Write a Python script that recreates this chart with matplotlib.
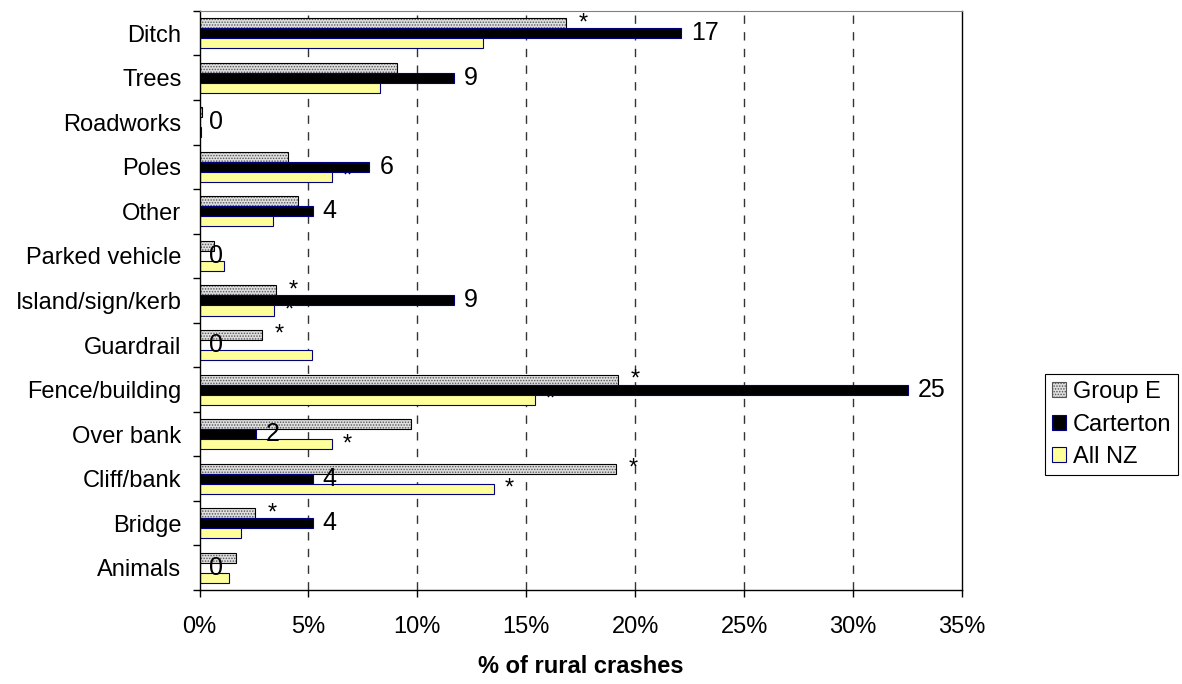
import numpy as np
import matplotlib
matplotlib.use("Agg")
from matplotlib import pyplot as plt
from matplotlib.patches import Patch

plt.rcParams['font.family'] = ['Liberation Sans', 'DejaVu Sans']
plt.rcParams['hatch.linewidth'] = 0.7

# data (% of rural crashes)
categories = ["Ditch", "Trees", "Roadworks", "Poles", "Other", "Parked vehicle",
              "Island/sign/kerb", "Guardrail", "Fence/building", "Over bank",
              "Cliff/bank", "Bridge", "Animals"]
group_e = [16.8, 9.05, 0.12, 4.07, 4.52, 0.67, 3.52, 2.87, 19.2, 9.73, 19.1, 2.54, 1.67]
carterton = [22.1, 11.7, 0.0, 7.8, 5.2, 0.0, 11.7, 0.0, 32.5, 2.6, 5.2, 5.2, 0.0]
all_nz = [13.0, 8.3, 0.08, 6.1, 3.38, 1.13, 3.4, 5.18, 15.4, 6.1, 13.5, 1.92, 1.36]
carterton_counts = [17, 9, 0, 6, 4, 0, 9, 0, 25, 2, 4, 4, 0]

# categories with a significance star
star_group_e = ["Ditch", "Island/sign/kerb", "Guardrail", "Fence/building", "Cliff/bank", "Bridge"]
star_all_nz = ["Poles", "Island/sign/kerb", "Fence/building", "Over bank", "Cliff/bank"]

xticks = [0, 5, 10, 15, 20, 25, 30, 35]
fs = 17

fig = plt.figure(figsize=(11.82, 6.84), dpi=100)
ax = fig.add_axes([0.1688, 0.1374, 0.6451, 0.8466])

y = np.arange(len(categories))
h = 0.225

ax.barh(y - h, group_e, height=h, color='#dedede', edgecolor='#555555',
        hatch='......', linewidth=0, zorder=2)
ax.barh(y - h, group_e, height=h, fill=False, edgecolor='black',
        linewidth=0.8, zorder=2)
ax.barh(y, carterton, height=h, color='black', edgecolor='#000080',
        linewidth=0.8, zorder=2)
ax.barh(y + h, all_nz, height=h, color='#ffff99', edgecolor='#000080',
        linewidth=0.8, zorder=2)

# count labels on Carterton bars
for i, (v, c) in enumerate(zip(carterton, carterton_counts)):
    ax.text(v + 0.45, y[i], str(c), va='center', ha='left', fontsize=fs + 1, zorder=3)

# significance stars
for i, cat in enumerate(categories):
    if cat in star_group_e:
        ax.text(group_e[i] + 0.8, y[i] - h, "*", ha='center', va='center',
                fontsize=fs, zorder=1.5)
    if cat in star_all_nz:
        ax.text(all_nz[i] + 0.7, y[i] + h, "*", ha='center', va='center',
                fontsize=fs, zorder=1.5)

ax.set_xlim(0, 35)
ax.set_ylim(len(categories) - 0.5, -0.5)
ax.set_xticks(xticks)
ax.set_xticklabels([f"{t}%" for t in xticks])
ax.set_yticks(y)
ax.set_yticklabels(categories)
ax.set_yticks(np.arange(len(categories) + 1) - 0.5, minor=True)
ax.tick_params(axis='y', which='major', length=0, labelsize=fs, pad=13)
ax.tick_params(axis='y', which='minor', length=5, width=1, direction='out')
ax.tick_params(axis='x', length=5, width=1, direction='out', labelsize=fs, pad=14)

for xv in xticks[1:-1]:
    ax.axvline(xv, color='#333333', linestyle=(0, (6, 6)), linewidth=1, zorder=0)

ax.spines['top'].set_color('#808080')
for s in ['left', 'bottom', 'right']:
    ax.spines[s].set_color('black')
    ax.spines[s].set_linewidth(1)

ax.set_xlabel("% of rural crashes", fontsize=fs, fontweight='bold', labelpad=12)

handles = [Patch(facecolor='#dedede', edgecolor='#555555', hatch='......', linewidth=0.8),
           Patch(facecolor='black', edgecolor='#000080', linewidth=0.8),
           Patch(facecolor='#ffff99', edgecolor='#000080', linewidth=0.8)]
leg = ax.legend(handles, ["Group E", "Carterton", "All NZ"], loc='lower right',
                bbox_to_anchor=(0.997, 0.305), bbox_transform=fig.transFigure,
                fontsize=fs, frameon=True, fancybox=False, framealpha=1,
                edgecolor='black', handlelength=0.6, handleheight=0.6,
                handletextpad=0.3, borderaxespad=0, borderpad=0.3, labelspacing=0.45)
leg.get_frame().set_linewidth(0.8)

plt.savefig("out.png", dpi=100)
